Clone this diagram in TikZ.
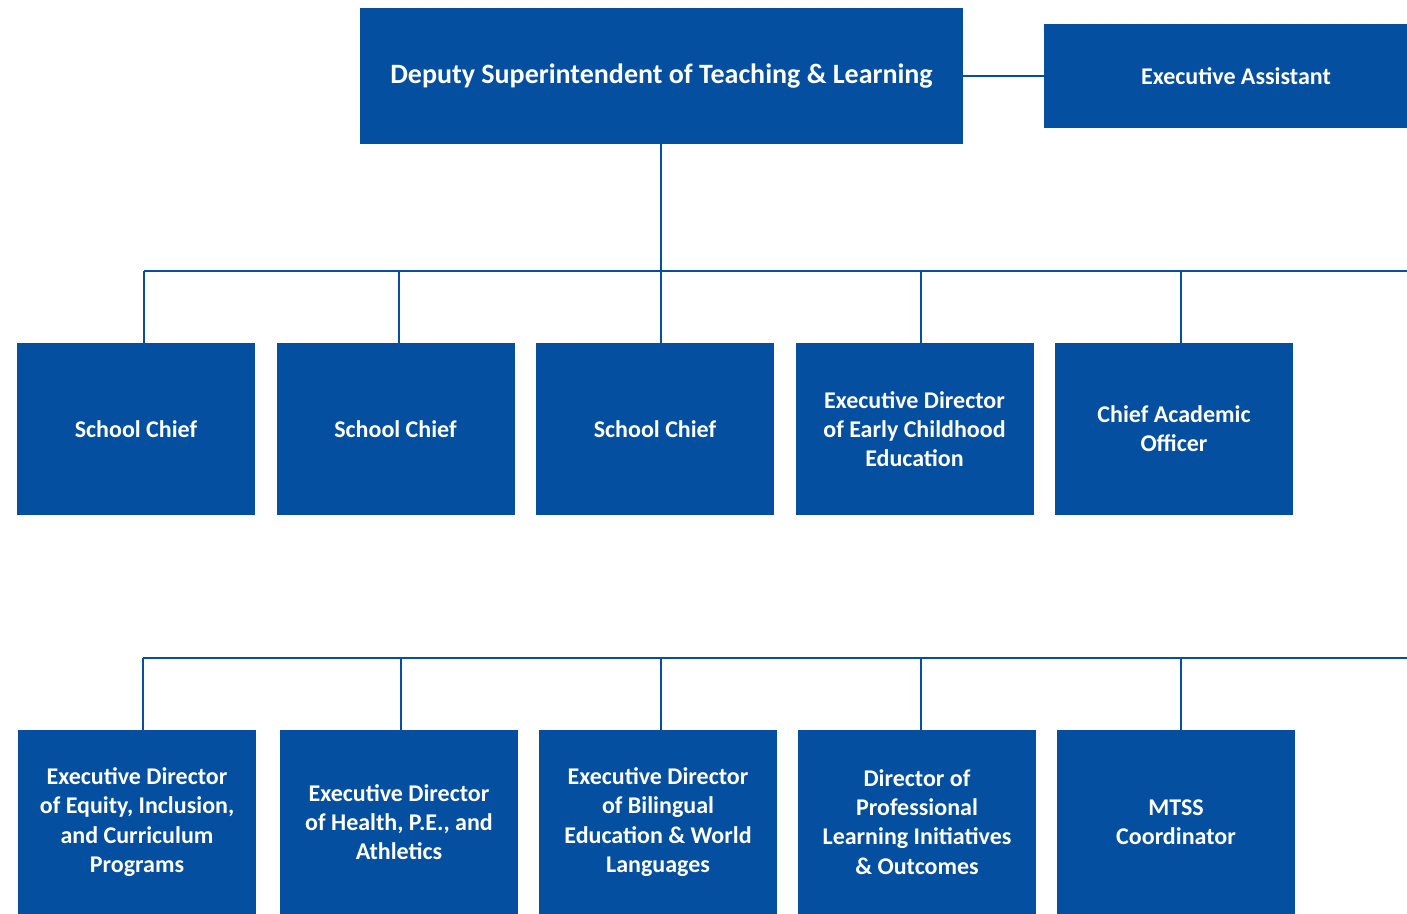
\documentclass[tikz,border=0pt]{standalone}
\usepackage{fontspec}
\setmainfont{Carlito}
\usetikzlibrary{positioning}
\definecolor{orgblue}{RGB}{4,79,160}

\begin{document}
\begin{tikzpicture}[x=0.5pt,y=-0.5pt,on grid,
    box/.style={fill=orgblue,text=white,align=center,inner sep=0pt,
        font=\bfseries\fontsize{12}{14.6}\selectfont,
        minimum width=119pt,minimum height=86pt},
    link/.style={draw=orgblue,line width=1pt}]

    \clip (0,0) rectangle (1407,914);

    \node[box,minimum width=301.5pt,minimum height=68pt,
        font=\bfseries\fontsize{14}{16}\selectfont] (dep) at (661.5,76)
        {Deputy Superintendent of Teaching \& Learning};
    \node[box,minimum width=192pt,minimum height=52pt,
        font=\bfseries\fontsize{12}{14}\selectfont] (ea) at (1236,76)
        {Executive Assistant};

    \node[box] (sc1) at (136,429) {School Chief};
    \node[box] (sc2) [right=129.75pt of sc1] {School Chief};
    \node[box] (sc3) [right=129.75pt of sc2] {School Chief};
    \node[box] (ece) [right=129.75pt of sc3] {Executive Director\\of Early Childhood\\Education};
    \node[box] (cao) [right=129.75pt of ece] {Chief Academic\\Officer};

    \node[box,minimum height=92pt] (eic) at (137,822) {Executive Director\\of Equity, Inclusion,\\and Curriculum\\Programs};
    \node[box,minimum height=92pt] (hpe) [right=131pt of eic] {Executive Director\\of Health, P.E., and\\Athletics};
    \node[box,minimum height=92pt] (bwl) [right=129.5pt of hpe] {Executive Director\\of Bilingual\\Education \& World\\Languages};
    \node[box,minimum height=92pt] (pli) [right=129.5pt of bwl] {Director of\\Professional\\Learning Initiatives\\\& Outcomes};
    \node[box,minimum height=92pt] (mtss) [right=129.5pt of pli] {MTSS\\Coordinator};

    % bus taps
    \coordinate (a1) at (144,271);
    \coordinate (a2) at (399,271);
    \coordinate (a3) at (661,271);
    \coordinate (a4) at (921,271);
    \coordinate (a5) at (1181,271);
    \coordinate (aend) at (1420,271);
    \coordinate (b1) at (143,658);
    \coordinate (b2) at (401,658);
    \coordinate (b3) at (661,658);
    \coordinate (b4) at (921,658);
    \coordinate (b5) at (1181,658);
    \coordinate (bend) at (1420,658);

    \draw[link] (dep.east) -- (ea.west);
    \draw[link] (dep.south -| a3) -- (a3);
    \draw[link] (a1) -- (aend);
    \draw[link] (b1) -- (bend);

    \draw[link] (a1) -- (a1 |- sc1.north);
    \draw[link] (a2) -- (a2 |- sc2.north);
    \draw[link] (a3) -- (a3 |- sc3.north);
    \draw[link] (a4) -- (a4 |- ece.north);
    \draw[link] (a5) -- (a5 |- cao.north);

    \draw[link] (b1) -- (b1 |- eic.north);
    \draw[link] (b2) -- (b2 |- hpe.north);
    \draw[link] (b3) -- (b3 |- bwl.north);
    \draw[link] (b4) -- (b4 |- pli.north);
    \draw[link] (b5) -- (b5 |- mtss.north);

\end{tikzpicture}
\end{document}
